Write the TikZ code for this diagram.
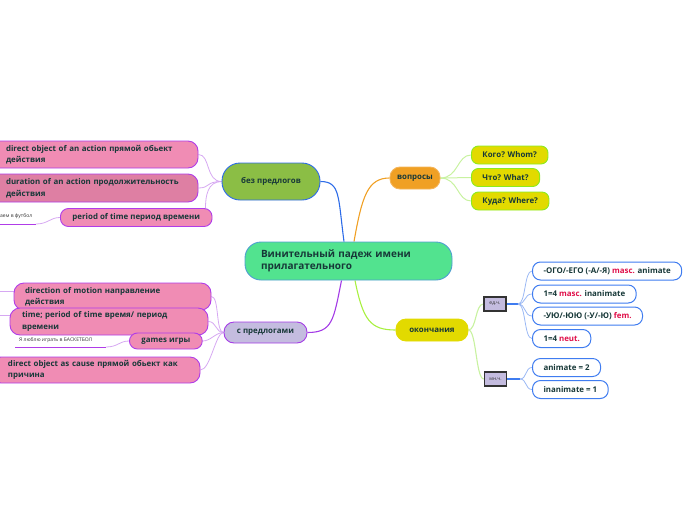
\documentclass[tikz,border=0pt]{standalone}
\usepackage{fontspec}
\setmainfont{Open Sans}
\usetikzlibrary{calc}
\pgfdeclarelayer{bg}
\pgfsetlayers{bg,main}
\definecolor{txt}{HTML}{173838}
\definecolor{pinkA}{HTML}{F08CB4}
\definecolor{pinkB}{HTML}{DE7FA3}
\definecolor{purp}{HTML}{B03CE8}
\definecolor{lpurp}{HTML}{D6A8F2}
\definecolor{cgreen}{HTML}{52E38F}
\definecolor{cborder}{HTML}{4E9FD0}
\definecolor{olive}{HTML}{8BBE45}
\definecolor{cblue}{HTML}{2C6BE8}
\definecolor{corange}{HTML}{F0A024}
\definecolor{lorange}{HTML}{F5B458}
\definecolor{cyellow}{HTML}{E2DA00}
\definecolor{lime}{HTML}{8CEB1E}
\definecolor{llime}{HTML}{C8F2A0}
\definecolor{ygreen}{HTML}{A8F040}
\definecolor{lav}{HTML}{C4BCDF}
\definecolor{cpurple}{HTML}{A43CE6}
\definecolor{eblue}{HTML}{3F7CF0}
\definecolor{leblue}{HTML}{9AB8F4}
\definecolor{cred}{HTML}{E0104A}
\definecolor{gtxt}{HTML}{333333}
\begin{document}
\begin{tikzpicture}[x=1pt,y=-1pt,
  every node/.style={text=txt, font=\bfseries\fontsize{7.9}{11.5}\selectfont},
  pinkbox/.style={fill=pinkA, draw=purp, line width=0.9pt, rounded corners=10pt, align=left, inner ysep=2pt},
  mainbox/.style={line width=0.9pt, rounded corners=10pt, inner xsep=12pt},
  qbox/.style={fill=cyellow, draw=lime, line width=0.9pt, rounded corners=7pt, minimum height=18pt, inner xsep=11pt, anchor=west},
  ebox/.style={fill=white, draw=eblue, line width=1pt, rounded corners=8pt, minimum height=18pt, inner xsep=11pt, anchor=west},
  numbox/.style={fill=lav, draw=gtxt, line width=1.4pt, minimum width=22pt, minimum height=14pt, inner sep=0pt, font=\fontsize{5}{6}\selectfont, text=gtxt},
  smalltxt/.style={font=\fontsize{5}{6}\selectfont, text=gtxt, inner sep=0pt, anchor=west},
  conn/.style={line width=1.1pt},
  lconn/.style={lpurp, line width=0.8pt},
  qconn/.style={llime, line width=1pt},
  econn/.style={leblue, line width=0.8pt}]
\useasboundingbox (0,0) rectangle (696,520);
\clip (0,0) rectangle (696,520);
% central
\node[fill=cgreen, draw=cborder, line width=0.9pt, rounded corners=16pt, text width=175pt, inner xsep=16pt, minimum height=38pt, align=left, font=\bfseries\fontsize{10}{12.5}\selectfont] (c) at (348.5,261) {Винительный падеж имени\\прилагательного};
% main branches
\node[mainbox, fill=olive, draw=cblue, rounded corners=18pt, minimum width=98pt, minimum height=37pt] (bez) at (271,181.5) {без предлогов};
\node[mainbox, fill=corange, draw=lorange, minimum width=50pt, minimum height=22pt, inner xsep=6pt] (vop) at (415,178) {вопросы};
\node[mainbox, fill=cyellow, draw=cyellow, minimum width=72pt, minimum height=22pt, inner xsep=6pt] (ok) at (432,330) {окончания};
\node[mainbox, fill=lav, draw=cpurple, minimum width=83pt, minimum height=21pt, inner xsep=6pt] (sp) at (265.5,332.5) {с предлогами};
% questions
\node[qbox] (q1) at (471,155) {Кого? Whom?};
\node[qbox] (q2) at (471,177.5) {Что? What?};
\node[qbox] (q3) at (471,201) {Куда? Where?};
% left top
\node[pinkbox, text width=175pt, inner xsep=17pt, minimum height=27pt] (t1) at (93.5,154.5) {direct object of an action прямой обьект\\действия};
\node[pinkbox, fill=pinkB, text width=175pt, inner xsep=17pt, minimum height=28pt] (t2) at (93.5,188) {duration of an action продолжительность\\действия};
\node[pinkbox, minimum height=18pt, inner xsep=12pt, anchor=west, rounded corners=8pt] (per) at (60,217.5) {period of time период времени};
% left bottom
\node[pinkbox, text width=175pt, inner xsep=11pt, minimum height=27pt] (dir) at (112.5,296.5) {direction of motion направление\\действия};
\node[pinkbox, text width=174pt, inner xsep=12pt, minimum height=27pt] (tim) at (109,321.5) {time; period of time время/ период\\времени};
\node[pinkbox, minimum height=16pt, inner xsep=12pt, anchor=west, rounded corners=8pt] (gam) at (129,341) {games игры};
\node[pinkbox, text width=175pt, inner xsep=17pt, minimum height=26pt] (cau) at (95.5,370) {direct object as cause прямой обьект как\\причина};
% small texts
\node[smalltxt] (fut) at (0,216.5) {аем в футбол};
\node[smalltxt] (bask) at (19,340.5) {Я люблю играть в БАСКЕТБОЛ};
% number boxes
\node[numbox] (ed) at (495,304) {ед.ч.};
\node[numbox] (mn) at (495.5,379) {мн.ч.};
% endings
\node[ebox] (e1) at (532,271) {-ОГО/-ЕГО (-А/-Я) \textcolor{cred}{masc.} animate};
\node[ebox] (e2) at (532,294) {1=4 \textcolor{cred}{masc.} inanimate};
\node[ebox] (e3) at (532,316) {-УЮ/-ЮЮ (-У/-Ю) \textcolor{cred}{fem.}};
\node[ebox] (e4) at (532,338.5) {1=4 \textcolor{cred}{neut.}};
\node[ebox] (a1) at (532,367.5) {animate = 2};
\node[ebox] (a2) at (532,389.5) {inanimate = 1};
% coordinates
\coordinate (edj) at (518,304);
\coordinate (mnj) at (520,379);
\coordinate (fl) at (-2,224);
\coordinate (fr) at (36,224);
\coordinate (bl) at (15,347);
\coordinate (br) at (106,347);
\coordinate (s1) at (-2,291);
\coordinate (s2) at (-2,315.5);
\begin{pgfonlayer}{bg}
\draw[conn, cblue] ($(c.north)+(-4.5,0)$) .. controls +(-6,-45) and +(20,0) .. (bez.east);
\draw[conn, corange] ($(c.north)+(5.5,0)$) .. controls +(8,-45) and +(-22,0) .. (vop.west);
\draw[conn, cpurple] ($(c.south)+(-7,0)$) .. controls +(-8,40) and +(25,0) .. (sp.east);
\draw[conn, ygreen] ($(c.south)+(6.5,0)$) .. controls +(8,40) and +(-25,0) .. (ok.west);
\foreach \n in {q1,q2,q3} \draw[qconn] (vop.east) .. controls +(18,0) and +(-14,0) .. (\n.west);
\draw[conn, llime] (ok.east) .. controls +(8,0) and +(-8,0) .. (ed.west);
\draw[conn, llime] (ok.east) .. controls +(8,0) and +(-8,0) .. (mn.west);
\draw[eblue, line width=2pt] (ed.east) -- (edj);
\draw[eblue, line width=2pt] (mn.east) -- (mnj);
\foreach \n in {e1,e2,e3,e4} \draw[econn] (edj) .. controls +(8,0) and +(-8,0) .. (\n.west);
\foreach \n in {a1,a2} \draw[econn] (mnj) .. controls +(7,0) and +(-7,0) .. (\n.west);
\draw[lconn] (bez.west) .. controls +(-16,0) and +(12,0) .. (t1.east);
\draw[lconn] (bez.west) .. controls +(-16,0) and +(12,0) .. (t2.east);
\draw[lconn] (bez.west) .. controls +(-14,0) and +(0,-12) .. ($(per.north east)+(-7,0)$);
\draw[lconn] (sp.west) .. controls +(-8,0) and +(8,0) .. (dir.east);
\draw[lconn] (sp.west) .. controls +(-8,0) and +(8,0) .. (tim.east);
\draw[lconn] (sp.west) .. controls +(-8,0) and +(8,0) .. (gam.east);
\draw[lconn] (sp.west) .. controls +(-8,0) and +(10,0) .. (cau.east);
\draw[purp, line width=1pt] (fl) -- (fr);
\draw[lconn] (fr) .. controls +(12,0) and +(-10,0) .. (per.west);
\draw[purp, line width=1pt] (bl) -- (br);
\draw[lconn] (br) .. controls +(12,0) and +(-10,0) .. (gam.west);
\draw[lconn] (s1) -- (s1 -| dir.west);
\draw[lconn] (s2) -- (s2 -| tim.west);
\end{pgfonlayer}
\end{tikzpicture}
\end{document}
